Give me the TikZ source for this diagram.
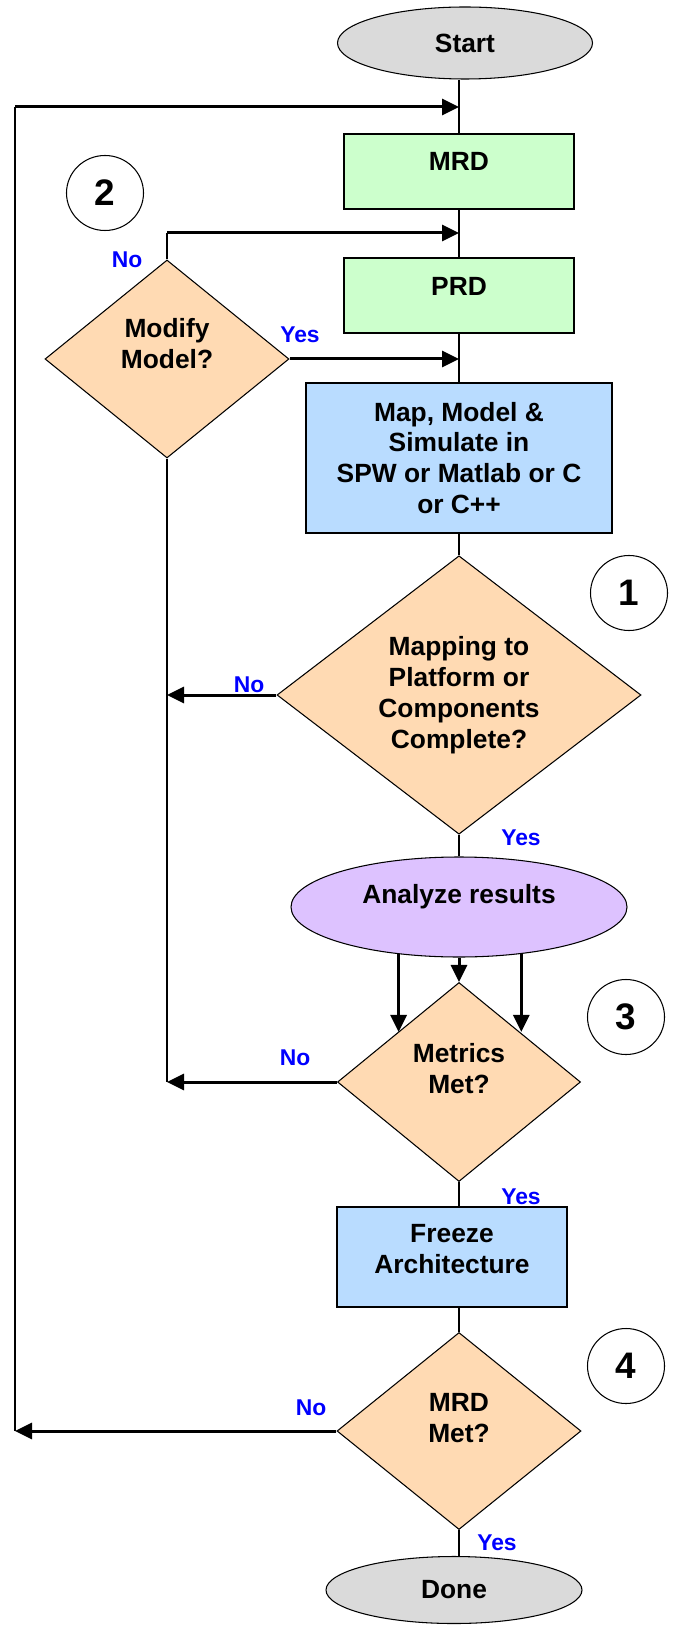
\documentclass[tikz,border=0pt]{standalone}
\usepackage{fontspec}
\setmainfont{Liberation Sans}
\usetikzlibrary{positioning,arrows.meta,shapes.geometric}
\definecolor{termgray}{HTML}{DADADA}
\definecolor{docgreen}{HTML}{CCFFCC}
\definecolor{stepblue}{HTML}{B9DCFF}
\definecolor{askpeach}{HTML}{FFDAB3}
\definecolor{anapurple}{HTML}{DDC2FF}
\definecolor{ansblue}{HTML}{0000FF}

\begin{document}
\begin{tikzpicture}[
  x=1mm,y=1mm,
  font=\fontsize{15}{17.6}\selectfont\bfseries,
  term/.style={ellipse,draw,line width=0.6pt,fill=termgray,inner sep=0pt},
  doc/.style={draw,line width=0.6pt,fill=docgreen,minimum width=46mm,minimum height=15mm,inner sep=0pt},
  proc/.style={draw,line width=0.6pt,fill=stepblue,align=center,inner sep=0pt},
  ask/.style={diamond,draw,line width=0.6pt,fill=askpeach,align=center,inner sep=0pt},
  tag/.style={ellipse,draw,line width=0.6pt,minimum width=15.4mm,minimum height=15mm,inner sep=0pt,
              font=\fontsize{21}{25}\selectfont\bfseries},
  ans/.style={text=ansblue,inner sep=0pt,font=\fontsize{13}{15}\selectfont\bfseries},
  line/.style={line width=0.6pt},
  arr/.style={-{Triangle[length=3.4mm,width=3.2mm]},line width=0.6mm}
]
\useasboundingbox (0,0) rectangle (134.6,-325);

% main column
\node[term,minimum width=51mm,minimum height=14.4mm] (start) at (93,-8.6) {Start};
\node[doc,label={[yshift=2.1mm]center:MRD}] (mrd) at (91.8,-34.3) {};
\node[doc,label={[yshift=1.9mm]center:PRD}] (prd) at (91.8,-59.1) {};
\node[proc,minimum width=61.2mm,minimum height=30mm] (map) at (91.8,-91.6)
  {Map, Model \&\\Simulate in\\SPW or Matlab or C\\or C++};
\node[ask,minimum width=72.8mm,minimum height=54.8mm] (plat) at (91.8,-139)
  {Mapping to\\Platform or\\Components\\Complete?};
\node[term,fill=anapurple,minimum width=67.2mm,minimum height=20mm,
      label={[yshift=2mm]center:Analyze results}] (ana) at (91.8,-181.4) {};
\node[ask,minimum width=48.6mm,minimum height=39.8mm,
      label={[align=center,yshift=2.6mm]center:{Metrics\\Met?}}] (met) at (91.8,-216.4) {};
\node[proc,minimum width=46mm,minimum height=20mm,
      label={[align=center,yshift=1.6mm]center:{Freeze\\Architecture}}] (frz) at (90.4,-251.4) {};
\node[ask,minimum width=48.8mm,minimum height=39.4mm,
      label={[align=center,yshift=2.6mm]center:{MRD\\Met?}}] (mmet) at (91.8,-286.2) {};
\node[term,minimum width=51.2mm,minimum height=13.4mm] (done) at (90.8,-318) {Done};

% side decision
\node[ask,minimum width=48.8mm,minimum height=39.6mm,
      label={[align=center,yshift=3mm]center:{Modify\\Model?}}] (mod) at (33.4,-71.8) {};

% step numbers
\node[tag] (n2) at (21,-38.6) {2};
\node[tag] (n1) at (125.8,-118.6) {1};
\node[tag] (n3) at (125.2,-203.4) {3};
\node[tag] (n4) at (125.2,-273.2) {4};

% answers
\node[ans] (mod-no) at (25.4,-52) {No};
\node[ans] (mod-yes) at (60,-67) {Yes};
\node[ans] (plat-no) at (49.8,-137) {No};
\node[ans] (plat-yes) at (104.2,-167.6) {Yes};
\node[ans] (met-no) at (59,-211.6) {No};
\node[ans] (met-yes) at (104.2,-239.4) {Yes};
\node[ans] (mmet-no) at (62.2,-281.6) {No};
\node[ans] (mmet-yes) at (99.4,-308.6) {Yes};

\coordinate (j0) at (91.8,-21.4);
\coordinate (j1) at (91.8,-46.6);
\coordinate (lt) at (3,-21.4);

% flow
\draw[line] (start.south -| mrd.north) -- (mrd.north);
\draw[line] (mrd) -- (prd);
\draw[line] (prd) -- (map);
\draw[line] (map) -- (plat);
\draw[line] (plat) -- (ana);
\draw[line] (met.south) -- (met.south |- frz.north);
\draw[line] (frz.south -| mmet.north) -- (mmet.north);
\draw[line] (mmet.south) -- (mmet.south |- done.north);

\draw[arr] (ana) -- (met);
\draw[arr] (ana.-142.6) -- (ana.-142.6 |- met.north west);
\draw[arr] (ana.-37.4) -- (ana.-37.4 |- met.north east);

% loops back
\draw[arr] (mmet.west) -- (mmet.west -| lt);
\draw[line] (mmet.west -| lt) -- (lt);
\draw[arr] (lt) -- (j0);

\draw[line] (mod.south) -- (mod.south |- met.west);
\draw[arr] (plat.west) -- (plat.west -| mod.south);
\draw[arr] (met.west) -- (met.west -| mod.south);
\draw[line] (mod.north) -- (mod.north |- j1);
\draw[arr] (mod.north |- j1) -- (j1);
\draw[arr] (mod.east) -- (mod.east -| map.north);
\end{tikzpicture}
\end{document}
